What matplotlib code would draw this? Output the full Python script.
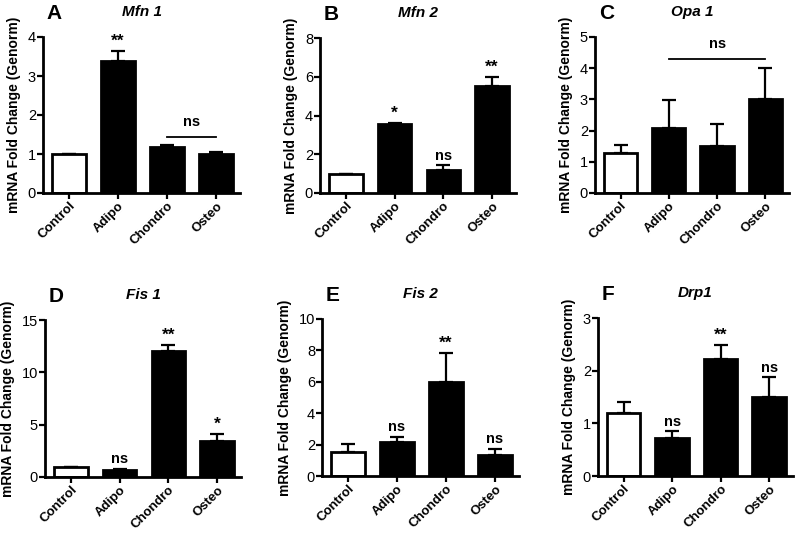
import matplotlib.pyplot as plt
import numpy as np

plt.rcParams['font.family'] = ['Liberation Sans', 'DejaVu Sans']

groups = ['Control', 'Adipo', 'Chondro', 'Osteo']

# mean and upper error bar (sem) per panel
mfn1 = [1.0, 3.38, 1.17, 1.0]
mfn1_err = [0.0, 0.27, 0.05, 0.06]
mfn2 = [1.0, 3.55, 1.2, 5.5]
mfn2_err = [0.0, 0.08, 0.22, 0.5]
opa1 = [1.28, 2.08, 1.5, 3.0]
opa1_err = [0.25, 0.9, 0.72, 1.0]
fis1 = [1.0, 0.65, 12.0, 3.4]
fis1_err = [0.0, 0.15, 0.6, 0.7]
fis2 = [1.55, 2.15, 6.0, 1.35]
fis2_err = [0.5, 0.35, 1.85, 0.4]
drp1 = [1.2, 0.73, 2.23, 1.5]
drp1_err = [0.2, 0.12, 0.25, 0.38]

panels = [
    # letter, title, values, errors, yticks, star labels, ns bracket (from, to, y)
    ('A', 'Mfn 1', mfn1, mfn1_err, [0, 1, 2, 3, 4], ['', '**', '', ''], (2, 3, 1.44)),
    ('B', 'Mfn 2', mfn2, mfn2_err, [0, 2, 4, 6, 8], ['', '*', 'ns', '**'], None),
    ('C', 'Opa 1', opa1, opa1_err, [0, 1, 2, 3, 4, 5], ['', '', '', ''], (1, 3, 4.3)),
    ('D', 'Fis 1', fis1, fis1_err, [0, 5, 10, 15], ['', 'ns', '**', '*'], None),
    ('E', 'Fis 2', fis2, fis2_err, [0, 2, 4, 6, 8, 10], ['', 'ns', '**', 'ns'], None),
    ('F', 'Drp1', drp1, drp1_err, [0, 1, 2, 3], ['', 'ns', '**', 'ns'], None),
]

# axes boxes in pixels: left, right, top, bottom
boxes = [
    (43, 240, 37, 193),
    (320, 516, 38, 193),
    (595, 789, 37, 193),
    (45, 241, 320, 477),
    (322, 519, 319, 476),
    (598, 793, 318, 476),
]

W, H = 800, 533
fig = plt.figure(figsize=(8, 5.33), dpi=100)

for (letter, title, vals, errs, yt, labels, bracket), (l, r, t, b) in zip(panels, boxes):
    ax = fig.add_axes([l / W, 1 - b / H, (r - l) / W, (b - t) / H])
    x = np.arange(len(groups))
    colors = ['white', 'black', 'black', 'black']
    ax.bar(x, vals, width=0.69, color=colors, edgecolor='black', linewidth=2, zorder=2)
    ax.errorbar(x, vals, yerr=[np.zeros(4), errs], fmt='none', ecolor='black',
                elinewidth=1.6, capsize=5, capthick=1.6, zorder=1)
    ymax = yt[-1]
    ax.set_ylim(0, ymax)
    ax.set_xlim(-0.53, 3.49)
    ax.set_yticks(yt)
    ax.set_yticklabels([str(v) for v in yt], fontsize=10.5)
    ax.set_xticks(x)
    ax.set_xticklabels(groups, rotation=45, ha='right', rotation_mode='anchor',
                       fontsize=9.5, fontweight='bold')
    ax.spines['top'].set_visible(False)
    ax.spines['right'].set_visible(False)
    ax.spines['left'].set_linewidth(2)
    ax.spines['bottom'].set_linewidth(2)
    ax.tick_params(width=1.6, length=4, pad=1)
    ax.set_ylabel('mRNA Fold Change (Genorm)', fontsize=10, fontweight='bold', labelpad=5)
    ax.set_title(title, fontsize=11, fontweight='bold', style='italic', pad=15)
    ax.text(0.02, 1.09, letter, transform=ax.transAxes, fontsize=15,
            fontweight='bold', ha='left', va='bottom')
    for i, lab in enumerate(labels):
        if lab:
            fs = 12.5 if '*' in lab else 10.5
            ax.text(i, vals[i] + errs[i] + ymax * 0.015, lab, ha='center', va='bottom',
                    fontsize=fs, fontweight='bold')
    if bracket:
        i0, i1, yb = bracket
        ax.plot([i0, i1], [yb, yb], color='black', lw=1.3, clip_on=False)
        ax.text((i0 + i1) / 2, yb + ymax * 0.05, 'ns', ha='center', va='bottom',
                fontsize=10.5, fontweight='bold')

fig.savefig('out.png', dpi=100)
